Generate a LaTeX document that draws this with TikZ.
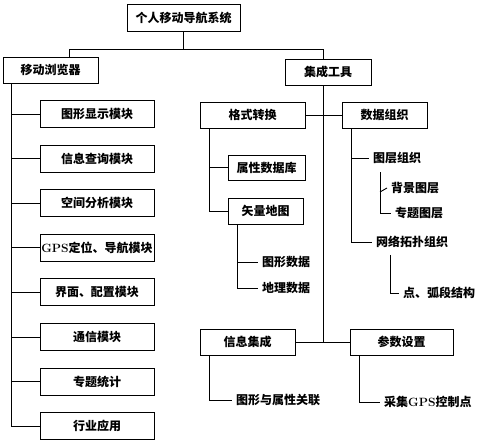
\documentclass[tikz,border=0pt]{standalone}
\usepackage{fontspec}
\usepackage{tikz}
\usetikzlibrary{positioning,calc}
\newfontfamily\cjk{Noto Sans CJK SC}
\tikzset{
    modbox/.style={
        rectangle,
        draw=black,
        line width=0.9pt,
        minimum width=114pt,
        minimum height=27pt,
        inner sep=1pt,
        text centered,
        font=\cjk\bfseries\fontsize{12}{14}\selectfont
    },
    leaf/.style={
        anchor=west,
        inner sep=4pt,
        font=\cjk\bfseries\fontsize{12}{14}\selectfont
    },
    branch/.style={
        line width=0.9pt
    }
}

\begin{document}
\begin{tikzpicture}[x=1pt, y=-1pt, node distance=16.7pt]
\useasboundingbox (0,0) rectangle (480,443);

% root
\node[modbox, minimum width=113pt] (root) at (183.5,17.5) {个人移动导航系统};

% browser and its modules
\node[modbox, minimum width=95pt, minimum height=26pt] (browser) at (50.5,70) {移动浏览器};
\node[modbox] (m1) at (97,114) {图形显示模块};
\node[modbox, below=of m1] (m2) {信息查询模块};
\node[modbox, below=of m2] (m3) {空间分析模块};
\node[modbox, below=of m3] (m4) {{\rmfamily GPS}定位、导航模块};
\node[modbox, below=of m4] (m5) {界面、配置模块};
\node[modbox, below=of m5] (m6) {通信模块};
\node[modbox, below=of m6] (m7) {专题统计};
\node[modbox, below=of m7] (m8) {行业应用};

% tools
\node[modbox, minimum width=86pt, minimum height=26pt] (tools) at (328,72) {集成工具};

% format conversion
\node[modbox, minimum width=105pt, minimum height=26pt] (fmt) at (252.5,115) {格式转换};
\node[modbox, minimum width=77pt, minimum height=25pt] (attrdb) at (266.5,167.5) {属性数据库};
\node[modbox, minimum width=75pt, minimum height=26pt] (vecmap) at (265.5,211) {矢量地图};
\node[leaf] (graphdata) at (258,262) {图形数据};
\node[leaf] (geodata) at (258,288) {地理数据};

% data organisation
\node[modbox, minimum width=85pt, minimum height=26pt] (dataorg) at (384.5,115) {数据组织};
\node[leaf] (layerorg) at (369,158) {图层组织};
\node[leaf] (bglayer) at (387,188) {背景图层};
\node[leaf] (themelayer) at (391,213) {专题图层};
\node[leaf] (netorg) at (372,242) {网络拓扑组织};
\node[leaf] (arcs) at (399,293) {点、弧段结构};

% integration and parameters
\node[modbox, minimum width=95pt, minimum height=26pt] (infoint) at (247.5,342) {信息集成};
\node[modbox, minimum width=103pt, minimum height=26pt] (params) at (401.5,342) {参数设置};
\node[leaf] (link) at (232,400) {图形与属性关联};
\node[leaf] (gpsctl) at (380,402) {采集{\rmfamily GPS}控制点};

% connectors
\coordinate (bus) at (182,49);
\draw[branch] (root.south) -- (root.south |- bus);
\draw[branch] ($(browser.north west)!0.695!(browser.north east)$) |- ([xshift=-5pt]tools.north |- bus) -- ([xshift=-5pt]tools.north);

\draw[branch] ([xshift=9pt]browser.south west) |- (m8.west);
\foreach \i in {1,...,7}
    \draw[branch] ([xshift=9pt]browser.south west |- m\i.west) -- (m\i.west);

\draw[branch] ([xshift=-5pt]tools.south) -- ([xshift=-5pt]tools.south |- params.west);
\draw[branch] (fmt.east) -- (dataorg.west);
\draw[branch] (infoint.east) -- (params.west);

\draw[branch] ([xshift=10pt]fmt.south west) |- (vecmap.west);
\draw[branch] ([xshift=10pt]fmt.south west |- attrdb.west) -- (attrdb.west);
\draw[branch] ([xshift=10pt]vecmap.south west) |- (geodata.west);
\draw[branch] ([xshift=10pt]vecmap.south west |- graphdata.west) -- (graphdata.west);

\draw[branch] ([xshift=10pt]dataorg.south west) |- (netorg.west);
\draw[branch] ([xshift=10pt]dataorg.south west |- layerorg.west) -- (layerorg.west);
\draw[branch] ([xshift=11pt,yshift=-4pt]layerorg.south west) |- (themelayer.west);
\draw[branch] ([xshift=11pt,yshift=-4pt]layerorg.south west |- bglayer.west) -- (bglayer.west);
\draw[branch] ([xshift=18pt,yshift=-3pt]netorg.south west) |- (arcs.west);

\draw[branch] ([xshift=10pt]infoint.south west) |- (link.west);
\draw[branch] ([xshift=10pt]params.south west) |- (gpsctl.west);
\end{tikzpicture}
\end{document}
